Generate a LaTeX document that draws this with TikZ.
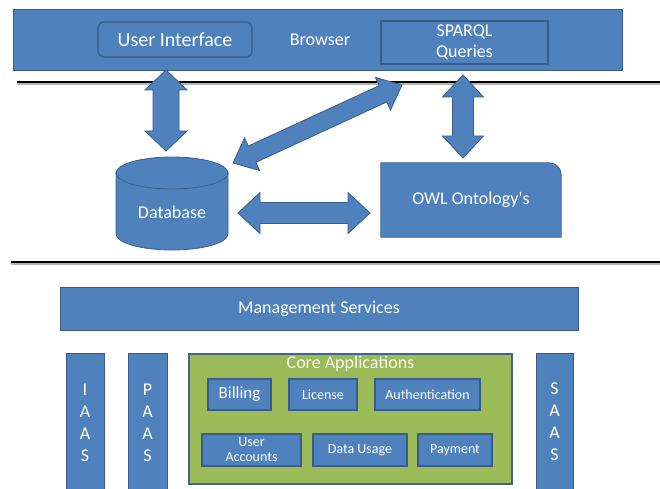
\documentclass[tikz,border=0pt]{standalone}
\usepackage{fontspec}
\setmainfont{Carlito}
\usetikzlibrary{calc}
\definecolor{bfill}{HTML}{4F81BD}
\definecolor{bline}{HTML}{385D8A}
\definecolor{gfill}{HTML}{9BBB59}
\definecolor{gline}{HTML}{41658F}
\definecolor{shadowgray}{HTML}{B5B5B5}
% #1 start, #2 end, #3 shaft half width, #4 head half width, #5 head length
\newcommand{\fatarr}[5]{%
  \filldraw[fill=bfill, draw=bline, line width=0.8pt, line join=miter]
    (#1) -- ($(#1)!#5!(#2)!#4!90:(#2)$) -- ($(#1)!#5!(#2)!#3!90:(#2)$)
    -- ($(#2)!#5!(#1)!#3!-90:(#1)$) -- ($(#2)!#5!(#1)!#4!-90:(#1)$)
    -- (#2)
    -- ($(#2)!#5!(#1)!#4!90:(#1)$) -- ($(#2)!#5!(#1)!#3!90:(#1)$)
    -- ($(#1)!#5!(#2)!#3!-90:(#2)$) -- ($(#1)!#5!(#2)!#4!-90:(#2)$)
    -- cycle;}
\begin{document}
\begin{tikzpicture}[x=1pt,y=1pt,
  box/.style={draw=bline, fill=bfill, line width=0.8pt, inner sep=0pt},
  lbl/.style={text=white, inner sep=0pt, align=center, font=\fontsize{18}{21}\selectfont},
  lblbig/.style={text=white, inner sep=0pt, align=center, font=\fontsize{20}{23}\selectfont},
  lblvert/.style={text=white, inner sep=0pt, align=center, font=\fontsize{18}{22}\selectfont},
  appbox/.style={box, line width=1.2pt, text=white, align=center, font=\fontsize{14}{15}\selectfont},
  sep/.style={line width=2.2pt, black},
  sepshadow/.style={line width=2.2pt, shadowgray}
]
\useasboundingbox (0,0) rectangle (660,488);

% Browser bar
\node[box, minimum width=609pt, minimum height=61pt] (browser) at (317.5,448.5) {};
\node[box, rounded corners=6pt, line width=1.2pt, minimum width=154pt, minimum height=35pt] (ui) at (175,448.5) {};
\node[lblbig] (uitxt) at (175,448.5) {User Interface};
\node[lbl] (browsertxt) at (320,448) {Browser};
\node[box, line width=1.2pt, minimum width=167pt, minimum height=43pt] (sparql) at (464.5,445.5) {};
\node[lbl] (sparqltxt) at (464.5,445.5) {SPARQL\\Queries};

% separator lines
\draw[sepshadow] (17,404.4) -- (660,404.4);
\draw[sep] (17,405.8) -- (660,405.8);
\draw[sepshadow] (11,224.6) -- (660,224.6);
\draw[sep] (11,226) -- (660,226);

% Database cylinder
\filldraw[fill=bfill, draw=bline, line width=0.8pt]
  (116,315) -- (116,254) arc[start angle=180,end angle=360,x radius=56pt,y radius=16pt]
  -- (228,315) arc[start angle=0,end angle=180,x radius=56pt,y radius=16pt] -- cycle;
\draw[bline, line width=0.8pt] (116,315) arc[start angle=180,end angle=360,x radius=56pt,y radius=16pt];
\node[lbl] (db) at (172,276) {Database};

% OWL box
\node[inner sep=0pt, minimum width=180pt, minimum height=74pt] (owl) at (471,288) {};
\filldraw[fill=bfill, draw=bline, line width=0.8pt]
  (owl.north west) [rounded corners=12pt] -- (owl.north east) [sharp corners]
  -- (owl.south east) -- (owl.south west) -- cycle;
\node[lbl] (owltxt) at (owl.center) {OWL Ontology\textquotesingle s};

% arrow end points
\coordinate (a1t) at (166,418);
\coordinate (a1b) at (166,337);
\coordinate (a2a) at (233,325);
\coordinate (a2b) at (402,403);
\coordinate (a3t) at (463,413);
\coordinate (a3b) at (463,330);
\coordinate (a4l) at (238,275);
\coordinate (a4r) at (370,275);

\fatarr{a1t}{a1b}{13pt}{21pt}{20pt}
\fatarr{a2a}{a2b}{9pt}{18pt}{21pt}
\fatarr{a3t}{a3b}{10.5pt}{20.5pt}{22pt}
\fatarr{a4l}{a4r}{10.5pt}{20.5pt}{22pt}

% Management services
\node[box, minimum width=518pt, minimum height=43pt] (mgmt) at (319,179.5) {};
\node[lbl] (mgmttxt) at (319,179.5) {Management Services};

% vertical service bars
\filldraw[fill=bfill, draw=bline, line width=0.8pt] (66,-5) rectangle (104,135);
\node[lblvert] (iaas) at (85,65) {I\\A\\A\\S};
\filldraw[fill=bfill, draw=bline, line width=0.8pt] (128,-5) rectangle (167,135);
\node[lblvert] (paas) at (147.5,65) {P\\A\\A\\S};
\filldraw[fill=bfill, draw=bline, line width=0.8pt] (536,-5) rectangle (573,135);
\node[lblvert] (saas) at (554.5,66) {S\\A\\A\\S};

% Core applications
\node[draw=gline, fill=gfill, line width=1.2pt, inner sep=0pt, minimum width=323pt, minimum height=130pt] (core) at (350.5,69) {};
\node[text=white!92!gfill, inner sep=0pt, font=\fontsize{18}{21}\selectfont] (coretxt) at (350.5,124) {Core Applications};

\node[appbox, font=\fontsize{17}{19}\selectfont, minimum width=63pt, minimum height=31pt] (billing) at (239.5,93.5) {Billing};
\node[appbox, minimum width=68pt, minimum height=31pt] (license) at (323,93.5) {License};
\node[appbox, minimum width=105pt, minimum height=31pt] (auth) at (427.5,93.5) {Authentication};
\node[appbox, minimum width=99pt, minimum height=32pt] (uacc) at (251.5,38) {User\\Accounts};
\node[appbox, minimum width=94pt, minimum height=32pt] (usage) at (360,38) {Data Usage};
\node[appbox, minimum width=74pt, minimum height=32pt] (pay) at (455,38) {Payment};
\end{tikzpicture}
\end{document}
